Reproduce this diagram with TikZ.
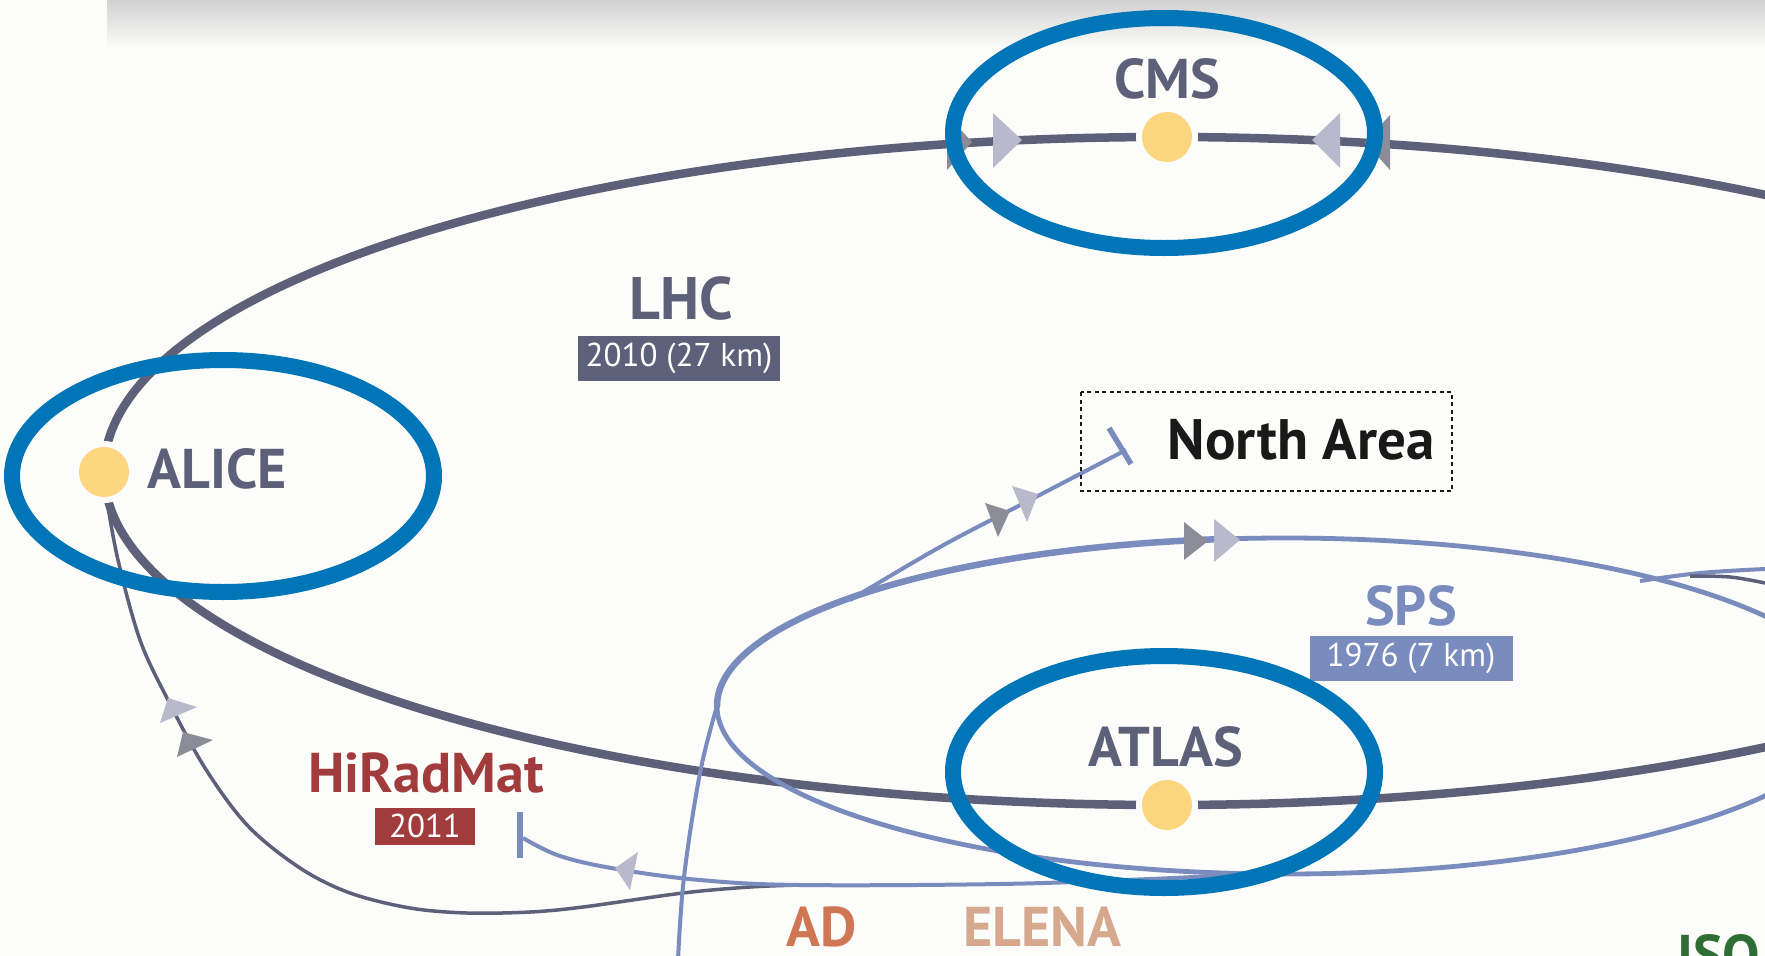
\documentclass[tikz,border=0pt]{standalone}
\usepackage{fontspec}
\setmainfont{PT Sans}
\definecolor{bgc}{HTML}{FCFCFA}
\definecolor{lhcc}{HTML}{5D6079}
\definecolor{spsc}{HTML}{7A8CBE}
\definecolor{dotc}{HTML}{FCD67E}
\definecolor{hlc}{HTML}{0076B9}
\definecolor{arrdark}{HTML}{8C8C99}
\definecolor{arrlight}{HTML}{B9B9CB}
\definecolor{hrmc}{HTML}{A23B3B}
\definecolor{adc}{HTML}{CF7654}
\definecolor{elenac}{HTML}{D6A98E}
\definecolor{isoc}{HTML}{2E6E35}
\begin{document}
\begin{tikzpicture}[x=1pt,y=-1pt,
  lhcring/.style={draw=lhcc, line width=8.5pt},
  lhcthin/.style={draw=lhcc, line width=3.5pt},
  spsring/.style={draw=spsc, line width=4.8pt},
  spsthin/.style={draw=spsc, line width=4pt},
  tbar/.style={draw=spsc, line width=5.5pt},
  hilite/.style={draw=hlc, line width=16pt},
  lbl/.style={font=\fontsize{56}{60}\selectfont\bfseries, text=lhcc, inner sep=0pt},
  yearbox/.style={font=\fontsize{33}{36}\selectfont, text=white, inner sep=0pt, minimum width=202pt, minimum height=45pt},
  expdot/.style={fill=dotc},
  gapdot/.style={fill=bgc},
  areabox/.style={draw=black!90, line width=2.5pt, dash pattern=on 4pt off 3.5pt}
]
\useasboundingbox (0,0) rectangle (1765,956);
\clip (0,0) rectangle (1765,956);
\fill[bgc] (0,0) rectangle (1765,956);
\shade[top color=black!18, bottom color=bgc] (107,0) rectangle (1765,48);

% rings
\draw[lhcring] (1167,471) ellipse [x radius=1063, y radius=334];
\draw[spsring] (1285,706) ellipse [x radius=568, y radius=168];
\draw[spsring, line width=6.5pt, line cap=round] (717,706) arc [start angle=180, end angle=264, x radius=568, y radius=168];

% transfer lines
\draw[lhcthin] plot[smooth, tension=0.55] coordinates {(106,495) (118,560) (140,640) (168,700) (205,768) (248,826) (300,868) (350,893) (410,908) (467,913) (530,912) (583,907) (683,893) (750,887) (800,885)};
\draw[spsthin] plot[smooth, tension=0.6] coordinates {(523,838) (560,856) (617,869) (700,880) (800,885) (1000,884) (1150,879) (1250,874)};
\draw[tbar] (520,812) -- (520,858);
\draw[spsthin] plot[smooth, tension=0.6] coordinates {(678,960) (684,877) (700,773) (717,706)};
\draw[spsthin] plot[smooth, tension=0.6] coordinates {(850,600) (940,547) (1030,500) (1126,450)};
\draw[tbar] (1109,428) -- (1131,464);
\draw[spsthin] plot[smooth, tension=0.6] coordinates {(1640,581) (1700,573) (1765,569)};
\draw[lhcthin] plot[smooth, tension=0.6] coordinates {(1690,576) (1730,577) (1765,583)};

% arrow heads
\fill[arrdark] (947,115) -- (972,142) -- (947,170) -- cycle;
\fill[arrlight] (993,113) -- (1022,140) -- (993,168) -- cycle;
\fill[arrlight] (1340,113) -- (1312,140) -- (1340,168) -- cycle;
\fill[arrdark] (1390,115) -- (1365,142) -- (1390,170) -- cycle;
\fill[arrdark] (1184,522) -- (1208,541) -- (1184,560) -- cycle;
\fill[arrlight] (1214,519) -- (1240,540) -- (1214,562) -- cycle;
\fill[arrdark] (985,503) -- (1010,511) -- (998,537) -- cycle;
\fill[arrlight] (1012,486) -- (1038,494) -- (1027,522) -- cycle;
\fill[arrlight] (168,698) -- (197,707) -- (160,723) -- cycle;
\fill[arrdark] (183,732) -- (213,740) -- (177,757) -- cycle;
\fill[arrlight] (615,868) -- (638,852) -- (630,890) -- cycle;

% experiment points
\fill[gapdot] (104,472) circle [radius=31];
\fill[expdot] (104,472) circle [radius=25];
\fill[gapdot] (1167,137) circle [radius=31];
\fill[expdot] (1167,137) circle [radius=25];
\fill[gapdot] (1167,805) circle [radius=31];
\fill[expdot] (1167,805) circle [radius=25];

% labels
\node[lbl] (cms) at (1167,79) {CMS};
\node[lbl] (alice) at (217,469) {ALICE};
\node[lbl] (atlas) at (1166,747) {ATLAS};
\node[lbl, font=\fontsize{60}{64}\selectfont\bfseries] (lhc) at (681,298) {LHC};
\node[yearbox, fill=lhcc] (lhcyear) at (679,358) {2010 (27 km)};
\node[lbl, text=spsc] (sps) at (1411,606) {SPS};
\node[yearbox, fill=spsc, minimum width=203pt] (spsyear) at (1411,658) {1976 (7 km)};
\node[lbl, text=hrmc] (hrm) at (426,773) {HiRadMat};
\node[yearbox, fill=hrmc, minimum width=100pt, minimum height=37pt] (hrmyear) at (425,826) {2011};
\draw[areabox] (1081,392) rectangle (1452,491);
\node[lbl, text=black!90, font=\fontsize{57}{60}\selectfont\bfseries] (na) at (1301,440) {North Area};
\node[lbl, text=adc] (ad) at (822,927) {AD};
\node[lbl, text=elenac] (elena) at (1042,927) {ELENA};
\node[lbl, text=isoc, anchor=north west] (iso) at (1677,934) {ISO};

% highlight ellipses
\draw[hilite] (1164,133) ellipse [x radius=211, y radius=115];
\draw[hilite] (223,476) ellipse [x radius=211, y radius=116];
\draw[hilite] (1164,772) ellipse [x radius=211, y radius=116];
\end{tikzpicture}
\end{document}
